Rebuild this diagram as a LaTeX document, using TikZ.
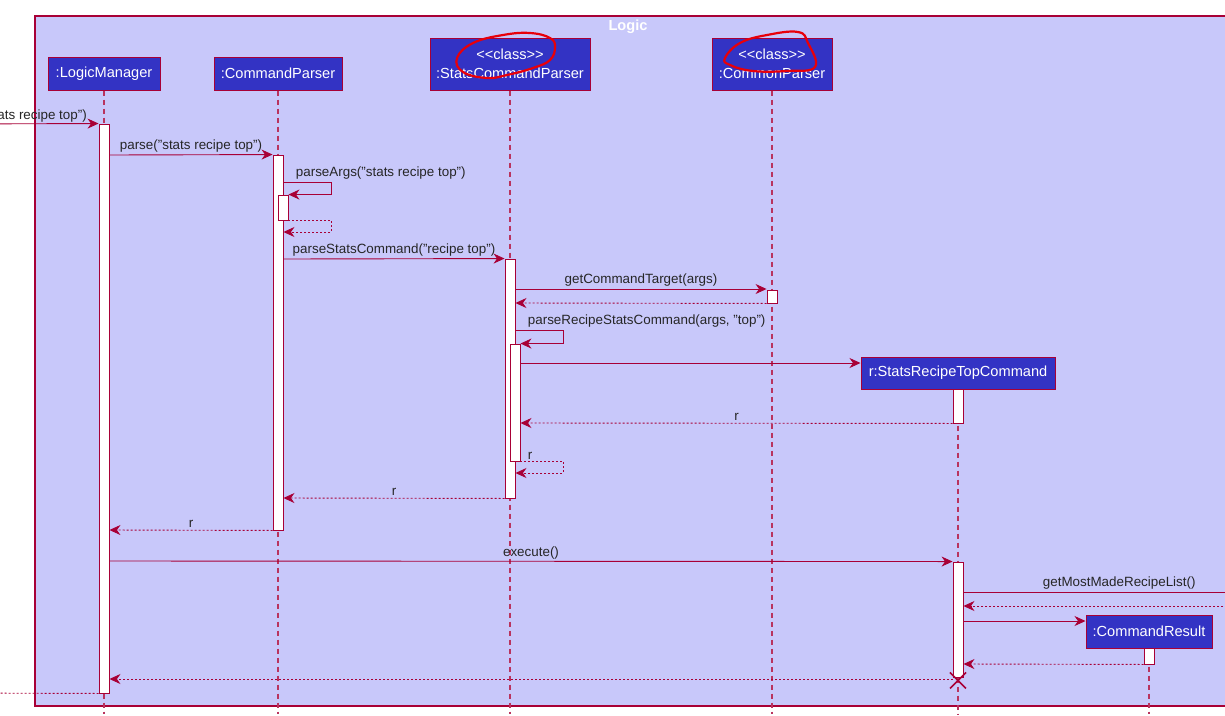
\documentclass[tikz,border=0pt]{standalone}
\usepackage{fontspec}
\setmainfont{Liberation Sans}
\usetikzlibrary{arrows.meta,positioning}
\definecolor{umlred}{HTML}{A80036}
\definecolor{logicblue}{HTML}{3333C4}
\definecolor{logicpale}{HTML}{C8C8FA}
\definecolor{scribred}{HTML}{E8000A}
\newcommand{\msgfont}{\fontsize{13.4}{15}\selectfont}
\newcommand{\partfont}{\fontsize{14.6}{19}\selectfont}
\tikzset{
  part/.style={draw=umlred, fill=logicblue, text=white, font=\partfont, align=center, inner sep=0pt, line width=1pt},
  act/.style={draw=umlred, fill=white, minimum width=10pt, inner sep=0pt, line width=0.9pt},
  life/.style={draw=umlred!80, dash pattern=on 5pt off 4pt, line width=1.1pt},
  msg/.style={draw=umlred, line width=0.9pt, -{Stealth[length=11pt,width=10pt,inset=3.5pt]}},
  ret/.style={msg, dash pattern=on 2pt off 2pt},
  lbl/.style={font=\msgfont, text=black!85, inner sep=2pt},
  scribble/.style={draw=scribred, line width=2.2pt, line cap=round, line join=round}
}

\begin{document}
\begin{tikzpicture}[x=1pt, y=-1pt]
  \clip (0,0) rectangle (1225,715);
  \fill[white] (0,0) rectangle (1225,715);
  \draw[umlred, fill=logicpale, line width=1.6pt] (35,16) rectangle (1260,706);
  \node[font=\bfseries\partfont, text=white] (title) at (628,27) {Logic};

  \node[part, minimum width=112pt, minimum height=33pt] (lm) at (104,73.5) {:LogicManager};
  \node[part, minimum width=128pt, minimum height=33pt] (cp) at (278,73.5) {:CommandParser};
  \node[part, minimum width=160pt, minimum height=52pt] (scp) at (510,64) {<{}<class>{}>\\:StatsCommandParser};
  \node[part, minimum width=120pt, minimum height=52pt] (cmp) at (772,64) {<{}<class>{}>\\:CommonParser};
  \node[part, minimum width=194pt, minimum height=32pt] (srtc) at (958,373) {r:StatsRecipeTopCommand};
  \node[part, minimum width=126pt, minimum height=33pt] (cr) at (1149,631.5) {:CommandResult};

  \foreach \p in {lm,cp,scp,cmp,srtc,cr}
    \draw[life] (\p.south) -- (\p.south |- 0,714);

  \node[act, minimum height=569pt] (lmAct) at (104,408.5) {};
  \node[act, minimum height=375pt] (cpAct) at (278,342.5) {};
  \node[act, minimum height=25pt] (cpSelf) at (283,207.5) {};
  \node[act, minimum height=239pt] (scpAct) at (510,378.5) {};
  \node[act, minimum height=117pt] (scpSelf) at (515,402.5) {};
  \node[act, minimum height=13pt] (cmpAct) at (772,296.5) {};
  \node[act, minimum height=34pt] (srtcAct) at (958,406) {};
  \node[act, minimum height=115pt] (srtcExec) at (958,619.5) {};
  \node[act, minimum height=16pt] (crAct) at (1149,656) {};

  \coordinate (caller) at (-60,124);
  \coordinate (callerBack) at (-60,693);
  \coordinate (modelIn) at (1275,592);
  \coordinate (modelOut) at (1275,606);

  \draw[msg] (caller) -- (lmAct.north west);
  \node[lbl, anchor=south east] (entry) at (89,124) {ats recipe top")};
  \draw[msg] (lmAct.east |- 0,155) -- (cpAct.north west) node[lbl, midway, above] {parse("stats recipe top")};
  \draw[msg] (cpAct.east |- 0,182) node[lbl, anchor=south west, xshift=10pt] {parseArgs("stats recipe top")} -- ++(48,0) |- (cpSelf.north east);
  \draw[ret] (cpSelf.south east) -- ++(43,0) |- (cpAct.east |- 0,232);
  \draw[msg] (cpAct.east |- 0,259) -- (scpAct.north west) node[lbl, midway, above] {parseStatsCommand("recipe top")};
  \draw[msg] (scpAct.east |- 0,289) -- (cmpAct.west |- 0,289) node[lbl, midway, above] {getCommandTarget(args)};
  \draw[ret] (cmpAct.south west) -- (scpAct.east |- 0,303);
  \draw[msg] (scpAct.east |- 0,330) node[lbl, anchor=south west, xshift=10pt] {parseRecipeStatsCommand(args, "top")} -- ++(48,0) |- (scpSelf.north east);
  \draw[msg] (scpSelf.east |- 0,363) -- (srtc.west |- 0,363);
  \draw[ret] (srtcAct.south west) -- (scpSelf.east |- 0,423) node[lbl, midway, above] {r};
  \draw[ret] (scpSelf.south east) node[lbl, anchor=south west, xshift=5pt] {r} -- ++(43,0) |- (scpAct.east |- 0,473);
  \draw[ret] (scpAct.south west) -- (cpAct.east |- 0,498) node[lbl, midway, above] {r};
  \draw[ret] (cpAct.south west) -- (lmAct.east |- 0,530) node[lbl, midway, above] {r};
  \draw[msg] (lmAct.east |- 0,561) -- (srtcExec.north west) node[lbl, midway, above] {execute()};
  \draw[msg] (srtcExec.east |- modelIn) -- (modelIn) node[lbl, midway, above] {getMostMadeRecipeList()};
  \draw[ret] (modelOut) -- (srtcExec.east |- modelOut);
  \draw[msg] (srtcExec.east |- 0,621) -- (cr.west |- 0,621);
  \draw[ret] (crAct.south west) -- (srtcExec.east |- 0,664);
  \draw[ret] (srtcExec.west |- 0,679) -- (lmAct.east |- 0,679);
  \draw[ret] (lmAct.south west) -- (callerBack);

  \path (srtcExec.south) ++(0,3) coordinate (kill);
  \draw[umlred, line width=1.6pt] (kill) +(-8,-8) -- +(8,8) (kill) +(-8,8) -- +(8,-8);

  \draw[scribble] plot[smooth cycle, tension=0.7] coordinates {(457,58) (473,43) (503,35) (530,33) (550,38) (555,47) (550,60) (533,68) (507,75) (487,78) (463,72)};
  \draw[scribble] plot[smooth cycle, tension=0.7] coordinates {(725,58) (740,43) (767,35) (798,32) (808,43) (815,67) (787,71) (753,71) (730,65)};
\end{tikzpicture}
\end{document}
